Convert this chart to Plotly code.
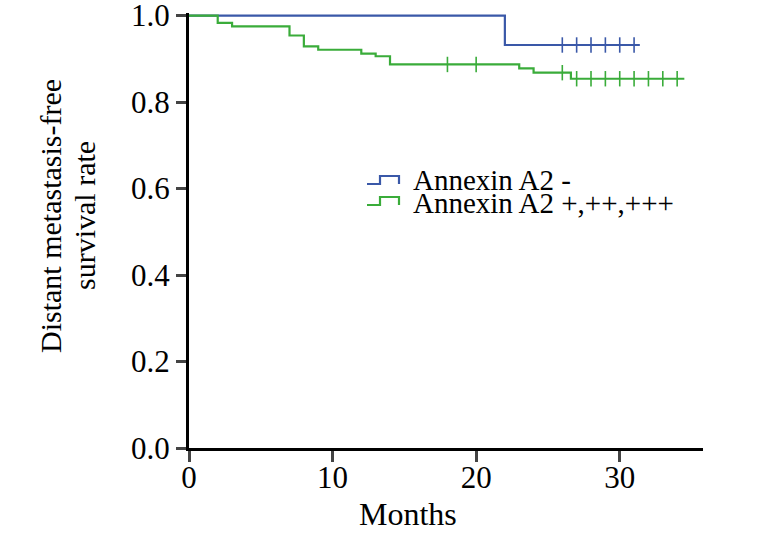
import plotly.graph_objects as go

# ---- data ----
neg_label = "Annexin A2 -"
neg_time = [0, 22.0, 31.4]
neg_surv = [1.0, 0.932, 0.932]
neg_cens_time = [26, 27, 28, 29, 30, 31]
neg_cens_surv = [0.932] * 6

pos_label = "Annexin A2 +,++,+++"
pos_time = [0, 2, 3, 7, 8, 9, 12, 13, 14, 23, 24, 26.6, 34.5]
pos_surv = [1.0, 0.983, 0.975, 0.954, 0.929, 0.921, 0.912, 0.906, 0.887, 0.878, 0.868, 0.854, 0.854]
pos_cens_time = [18, 20, 26, 27, 28, 29, 30, 31, 32, 33, 34]
pos_cens_surv = [0.887, 0.887, 0.868] + [0.854] * 8

x_ticks = [0, 10, 20, 30]
y_ticks = [0.0, 0.2, 0.4, 0.6, 0.8, 1.0]

BLUE = "rgb(58,88,168)"
GREEN = "rgb(58,172,58)"
FONT = "Liberation Serif"

W, H = 775, 554
L, T = 189, 13
R, B = W - 703, H - 448
PW, PH = W - L - R, H - T - B
Y_TOP = 1.006

def px(xp):  # page pixel -> paper
    return (xp - L) / PW

def py(yp):
    return (H - B - yp) / PH

fig = go.Figure()
for t, s, ct, cs, c in [
    (neg_time, neg_surv, neg_cens_time, neg_cens_surv, BLUE),
    (pos_time, pos_surv, pos_cens_time, pos_cens_surv, GREEN),
]:
    fig.add_trace(go.Scatter(x=t, y=s, mode="lines", line=dict(shape="hv", color=c, width=2.2),
                             showlegend=False, cliponaxis=False, hoverinfo="skip"))
    fig.add_trace(go.Scatter(x=ct, y=cs, mode="markers",
                             marker=dict(symbol="line-ns", size=11, line=dict(color=c, width=1.6)),
                             showlegend=False, cliponaxis=False, hoverinfo="skip"))

# custom legend (step glyph + text)
legend_rows = [(neg_label, BLUE, 184, 180), (pos_label, GREEN, 205, 203)]
shapes = []
annotations = []
for label, c, ylow, ytext in legend_rows:
    yhigh = ylow - 8
    path = "M {} {} L {} {} L {} {} L {} {} L {} {}".format(
        px(367), py(ylow), px(380), py(ylow), px(380), py(yhigh),
        px(399), py(yhigh), px(399), py(ylow))
    shapes.append(dict(type="path", xref="paper", yref="paper", path=path,
                       line=dict(color=c, width=2.2)))
    annotations.append(dict(text=label, xref="paper", yref="paper", x=px(411), y=py(ytext),
                            xanchor="left", yanchor="middle", showarrow=False,
                            font=dict(family=FONT, size=29, color="black")))

for text, xc in [("Distant metastasis-free", 50), ("survival rate", 84)]:
    annotations.append(dict(text=text, xref="paper", yref="paper", x=px(xc), y=py(216),
                            textangle=-90, xanchor="center", yanchor="middle", showarrow=False,
                            font=dict(family=FONT, size=30, color="black")))
annotations.append(dict(text="Months", xref="paper", yref="paper", x=px(408), y=py(514),
                        xanchor="center", yanchor="middle", showarrow=False,
                        font=dict(family=FONT, size=32, color="black")))

fig.update_layout(
    width=W, height=H, margin=dict(l=L, r=R, t=T, b=B, autoexpand=False),
    paper_bgcolor="white", plot_bgcolor="white",
    shapes=shapes, annotations=annotations,
    font=dict(family=FONT, size=31, color="black"),
)
fig.update_xaxes(range=[0, 35.8], tickvals=x_ticks, ticks="outside", ticklen=11, tickwidth=3,
                 showline=True, linecolor="black", linewidth=3, showgrid=False, zeroline=False,
                 tickfont=dict(family=FONT, size=31), ticklabeloverflow="allow", automargin=False,
                 ticklabelstandoff=-11)
fig.update_yaxes(range=[0, Y_TOP], tickvals=y_ticks, tickformat=".1f", ticks="outside", ticklen=10,
                 tickwidth=3, showline=True, linecolor="black", linewidth=3, showgrid=False,
                 zeroline=False, tickfont=dict(family=FONT, size=31), ticklabeloverflow="allow",
                 automargin=False)

fig.write_html("out.html", config={"displayModeBar": False},
               post_script="document.body.style.margin='0';document.body.style.overflow='hidden';")
